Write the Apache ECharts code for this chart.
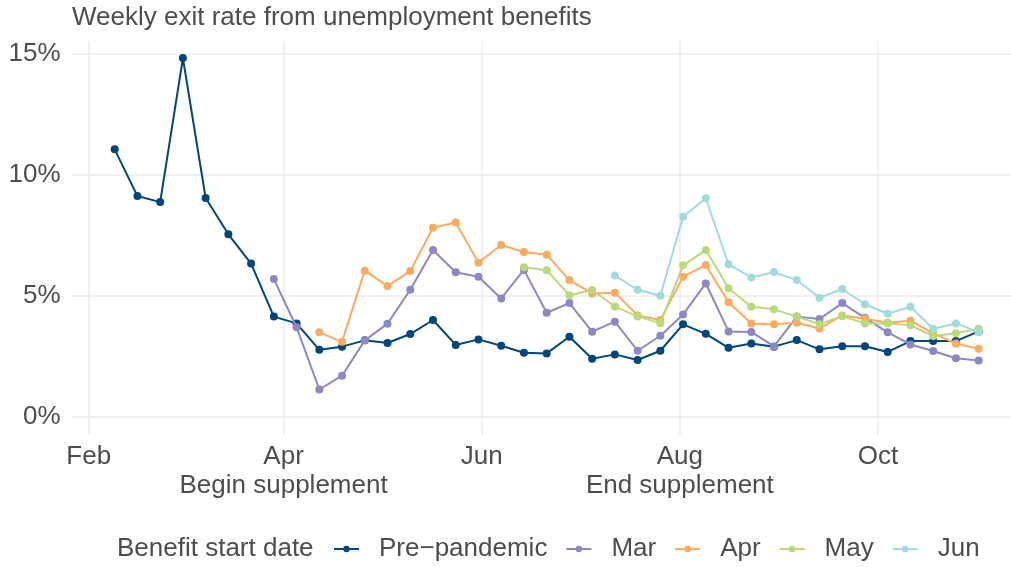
<!DOCTYPE html>
<html>
<head>
<meta charset="utf-8">
<script src="https://cdn.jsdelivr.net/npm/echarts@6/dist/echarts.min.js"></script>
<style>
html,body{margin:0;padding:0;background:#fff;}
#chart{width:1011px;height:567px;}
</style>
</head>
<body>
<div id="chart"></div>
<script>
// ---- Data ----
var weeks = ['2020-02-09','2020-02-16','2020-02-23','2020-03-01','2020-03-08','2020-03-15','2020-03-22','2020-03-29',
  '2020-04-05','2020-04-12','2020-04-19','2020-04-26','2020-05-03','2020-05-10','2020-05-17','2020-05-24','2020-05-31',
  '2020-06-07','2020-06-14','2020-06-21','2020-06-28','2020-07-05','2020-07-12','2020-07-19','2020-07-26',
  '2020-08-02','2020-08-09','2020-08-16','2020-08-23','2020-08-30','2020-09-06','2020-09-13','2020-09-20','2020-09-27',
  '2020-10-04','2020-10-11','2020-10-18','2020-10-25','2020-11-01'];

var prePandemic = [11.06,9.13,8.88,14.83,9.05,7.55,6.34,4.15,3.87,2.78,2.91,3.17,3.06,3.43,4.01,2.98,3.21,2.95,2.66,2.63,
  3.32,2.41,2.59,2.36,2.74,3.83,3.44,2.86,3.04,2.91,3.18,2.80,2.93,2.93,2.69,3.14,3.14,3.14,3.54];
var marCohort = [null,null,null,null,null,null,null,
  5.70,3.71,1.14,1.71,3.17,3.86,5.26,6.90,5.98,5.80,4.90,6.08,4.31,4.71,3.53,3.94,2.74,3.36,4.24,5.52,
  3.54,3.52,2.92,4.15,4.05,4.71,4.10,3.50,3.00,2.73,2.43,2.34];
var aprCohort = [null,null,null,null,null,null,null,null,null,
  3.50,3.11,6.05,5.41,6.03,7.82,8.04,6.38,7.11,6.82,6.71,5.66,5.11,5.14,4.20,4.01,5.80,6.28,4.74,3.87,
  3.84,3.90,3.66,4.20,4.06,3.90,3.98,3.46,3.04,2.82];
var mayCohort = [null,null,null,null,null,null,null,null,null,null,null,null,null,null,null,null,null,null,
  6.19,6.07,5.03,5.25,4.57,4.15,3.88,6.27,6.90,5.32,4.56,4.45,4.15,3.84,4.17,3.87,3.88,3.79,3.35,3.46,3.65];
var junCohort = [null,null,null,null,null,null,null,null,null,null,null,null,null,null,null,null,null,null,null,null,null,null,
  5.85,5.26,5.01,8.28,9.04,6.31,5.77,5.99,5.66,4.93,5.29,4.66,4.27,4.56,3.65,3.87,3.51];

var seriesNames = ['Pre\u2212pandemic','Mar','Apr','May','Jun'];
var seriesValues = [prePandemic, marCohort, aprCohort, mayCohort, junCohort];
var seriesColors = ['#00467d','#8c88c6','#fcab5e','#bad97a','#a3dbdd'];

var xTickDates = ['2020-02-01','2020-04-01','2020-06-01','2020-08-01','2020-10-01'];
var xTickLabels = ['Feb','Apr\nBegin supplement','Jun','Aug\nEnd supplement','Oct'];
var yTicks = [0,5,10,15];

// ---- Build (x = days since 1 Feb 2020) ----
function dayNum(s){var p=s.split('-');return Math.round((Date.UTC(+p[0],+p[1]-1,+p[2]) - Date.UTC(2020,1,1))/86400000);}
var xTickVals = xTickDates.map(dayNum);
var TEXT = '#4d4d4d';
var FONT = '"Liberation Sans", Arial, Helvetica, sans-serif';
var FS = 26;

var series = seriesNames.map(function(n, si){
  return {
    name: n, type: 'line',
    data: weeks.map(function(w,i){ return [dayNum(w), seriesValues[si][i]]; }),
    symbol: 'circle', symbolSize: 8, showSymbol: true,
    connectNulls: false,
    lineStyle: {width: 2, color: seriesColors[si]},
    itemStyle: {color: seriesColors[si]},
    emphasis: {disabled: true},
    z: 2 + si
  };
});

var chart = echarts.init(document.getElementById('chart'), null, {renderer:'canvas'});
chart.setOption({
  animation: false,
  backgroundColor: '#fff',
  textStyle: {fontFamily: FONT},
  title: [
    {text: 'Weekly exit rate from unemployment benefits', left: 67, top: 0,
     textStyle: {fontSize: FS, fontWeight: 'normal', color: TEXT, fontFamily: FONT}},
    {text: 'Benefit start date', left: 112, top: 531,
     textStyle: {fontSize: FS, fontWeight: 'normal', color: TEXT, fontFamily: FONT}}
  ],
  legend: {
    data: seriesNames, left: 328, top: 531,
    itemWidth: 25, itemHeight: 8, itemGap: 18,
    textStyle: {fontSize: FS, color: TEXT, fontFamily: FONT, padding: [0,0,0,15]},
    selectedMode: false
  },
  grid: {left: 71.5, right: 0, top: 40.9, bottom: 132, containLabel: false},
  xAxis: {
    type: 'value',
    min: -5.3, max: 283.96,
    axisLine: {show: false}, axisTick: {show: false, customValues: xTickVals},
    splitLine: {show: true, lineStyle: {color: '#ebebeb', width: 1.5}},
    axisLabel: {customValues: xTickVals, fontSize: FS, color: TEXT, fontFamily: FONT,
      margin: 7, lineHeight: 29, hideOverlap: false,
      formatter: function(v){ var i = xTickVals.indexOf(v); return i>=0 ? xTickLabels[i] : ''; }}
  },
  yAxis: {
    type: 'value', min: -0.74, max: 15.54,
    axisLine: {show: false}, axisTick: {show: false, customValues: yTicks},
    splitLine: {show: true, lineStyle: {color: '#ebebeb', width: 1.5}},
    axisLabel: {customValues: yTicks, fontSize: FS, color: TEXT, fontFamily: FONT, margin: 11,
      formatter: function(v){ return v + '%'; }}
  },
  series: series
});
</script>
</body>
</html>
